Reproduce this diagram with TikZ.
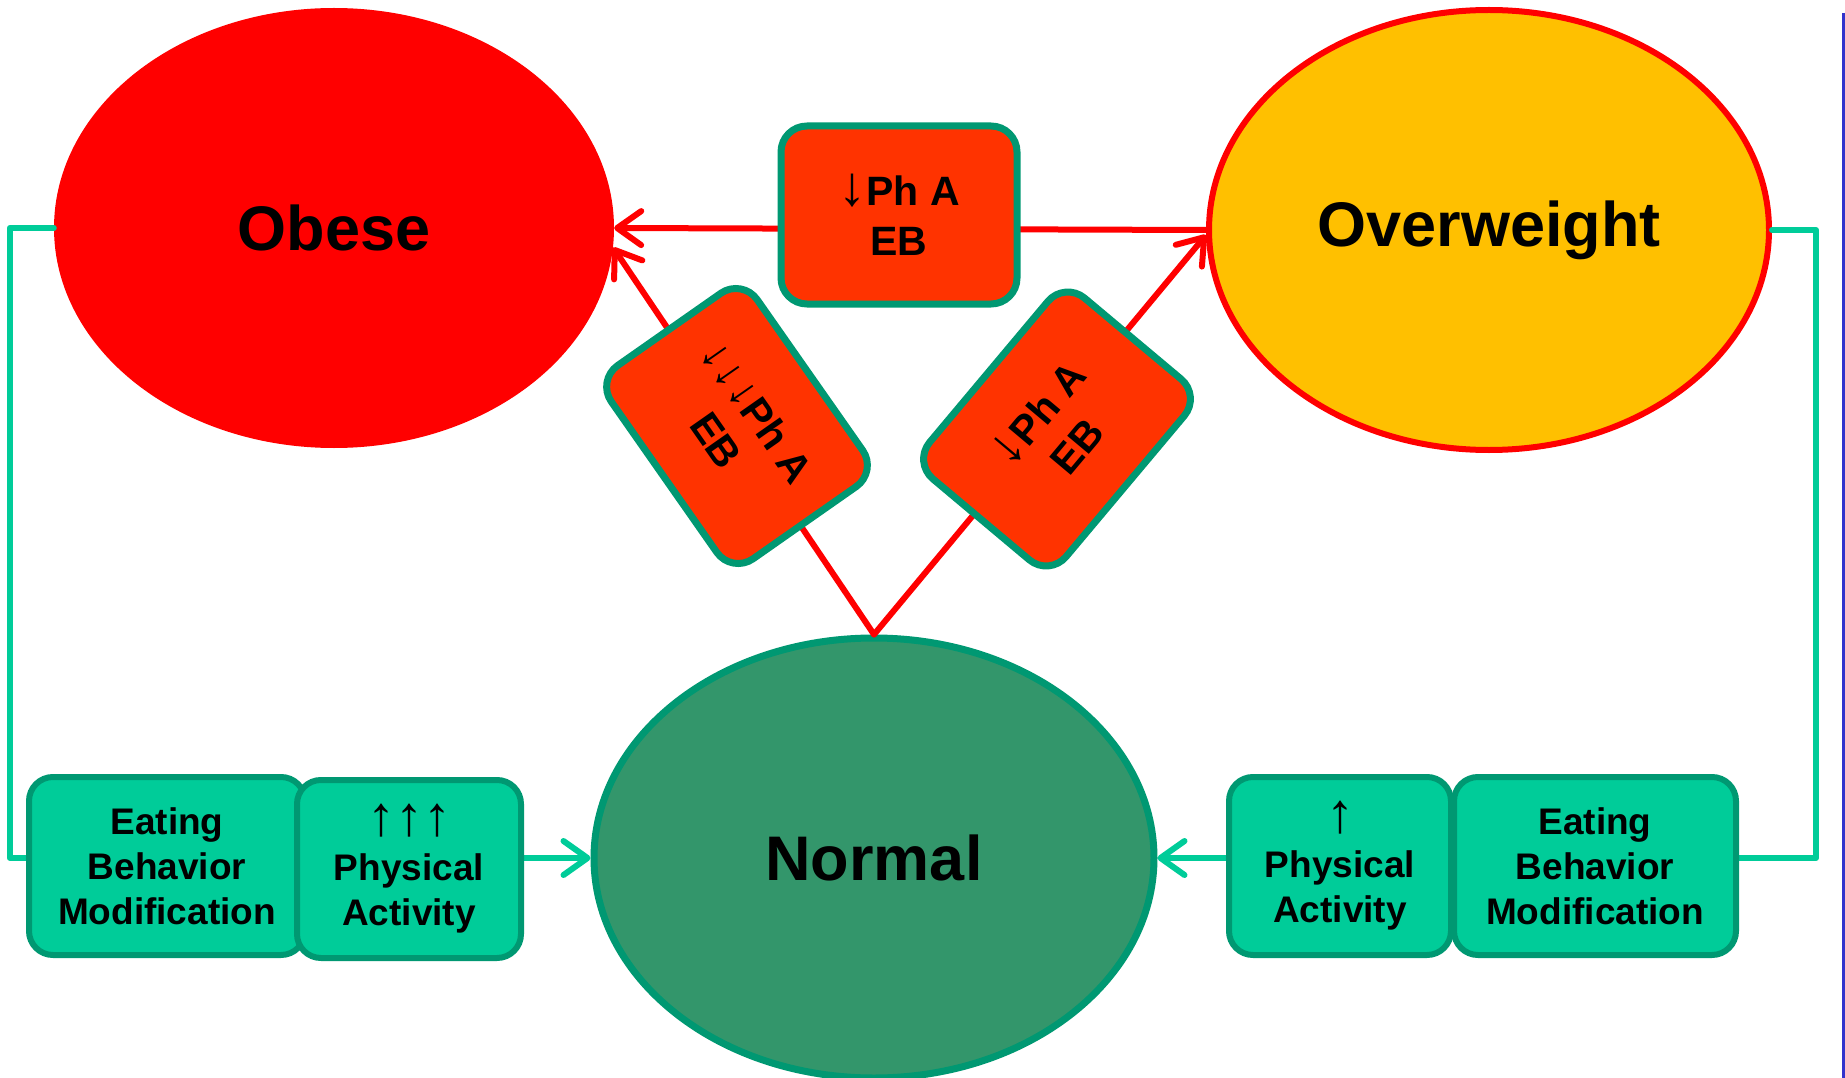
\documentclass[tikz,border=0pt]{standalone}
\usepackage{fontspec}
\setmainfont{Liberation Sans}
\usetikzlibrary{shapes.geometric,arrows.meta}

\definecolor{obesered}{HTML}{FF0000}
\definecolor{overyellow}{HTML}{FFC000}
\definecolor{normalgreen}{HTML}{33966B}
\definecolor{edgegreen}{HTML}{009872}
\definecolor{boxgreen}{HTML}{00CC99}
\definecolor{boxred}{HTML}{FF3300}
\definecolor{frameblue}{HTML}{3333CC}

\newcommand{\bigarr}[1]{{\fontsize{56}{45}\selectfont\mdseries #1}}

\pgfdeclarelayer{front}
\pgfsetlayers{main,front}

\begin{document}
\begin{tikzpicture}[x=1pt,y=-1pt,
  weight/.style={ellipse,inner sep=0pt,minimum width=560pt,minimum height=440pt,font=\fontsize{63}{70}\selectfont\bfseries},
  redbox/.style={draw=edgegreen,fill=boxred,line width=7pt,rounded corners=26pt,minimum width=236pt,minimum height=178pt,align=center,font=\fontsize{41}{50}\selectfont\bfseries},
  greenbox/.style={draw=edgegreen,fill=boxgreen,line width=6pt,rounded corners=24pt,minimum height=178pt,align=center,font=\fontsize{37}{45}\selectfont\bfseries},
  gain/.style={draw=boxgreen,line width=6pt,line cap=round,line join=round},
  loss/.style={draw=obesered,line width=6pt,line cap=round},
  barbtip/.style={-{Straight Barb[length=24pt,width=34pt,round]}}]
  \useasboundingbox (0,0) rectangle (1845,1078);
  % weight classes
  \node[weight,fill=obesered] (obese) at (334,228) {Obese};
  \node[weight,fill=overyellow,draw=obesered,line width=6pt] (overweight) at (1489,230) {Overweight};
  \node[weight,fill=normalgreen,draw=edgegreen,line width=7pt] (normal) at (874,858) {Normal};
  % factor boxes
  \begin{pgfonlayer}{front}
    \node[redbox] (topbox) at (899,215) {\bigarr{↓}Ph A\\EB};
    \node[redbox,rotate=-55] (leftbox) at (737,426) {{\fontsize{46}{50}\selectfont\mdseries↓↓↓}Ph A\\EB};
    \node[redbox,rotate=50] (rightbox) at (1057,429) {\bigarr{↓}Ph A\\EB};
    \node[greenbox,minimum width=276pt] (ebml) at (167,866) {Eating\\Behavior\\Modification};
    \node[greenbox,minimum width=224pt] (pal) at (409,869) {\bigarr{↑↑↑}\\Physical\\Activity};
    \node[greenbox,minimum width=222pt] (par) at (1340,866) {\bigarr{↑}\\Physical\\Activity};
    \node[greenbox,minimum width=282pt] (ebmr) at (1595,866) {Eating\\Behavior\\Modification};
  \end{pgfonlayer}
  % gaining weight
  \draw[loss,barbtip] (overweight.west) -- (obese.east);
  \draw[loss,barbtip] (normal.north) -- (obese.-4);
  \draw[loss,barbtip] (normal.north) -- (overweight.181);
  % losing weight
  \draw[gain] (obese.west) -- ++(-44,0) |- (normal.west -| ebml.west);
  \draw[gain,barbtip] (normal.west -| pal.east) -- (normal.west);
  \draw[gain] (overweight.east) -- ++(44,0) |- (normal.east -| ebmr.east);
  \draw[gain,barbtip] (normal.east -| par.west) -- (normal.east);
  \draw[frameblue,line width=3pt] (1843,13) -- (1843,1078);
\end{tikzpicture}
\end{document}
